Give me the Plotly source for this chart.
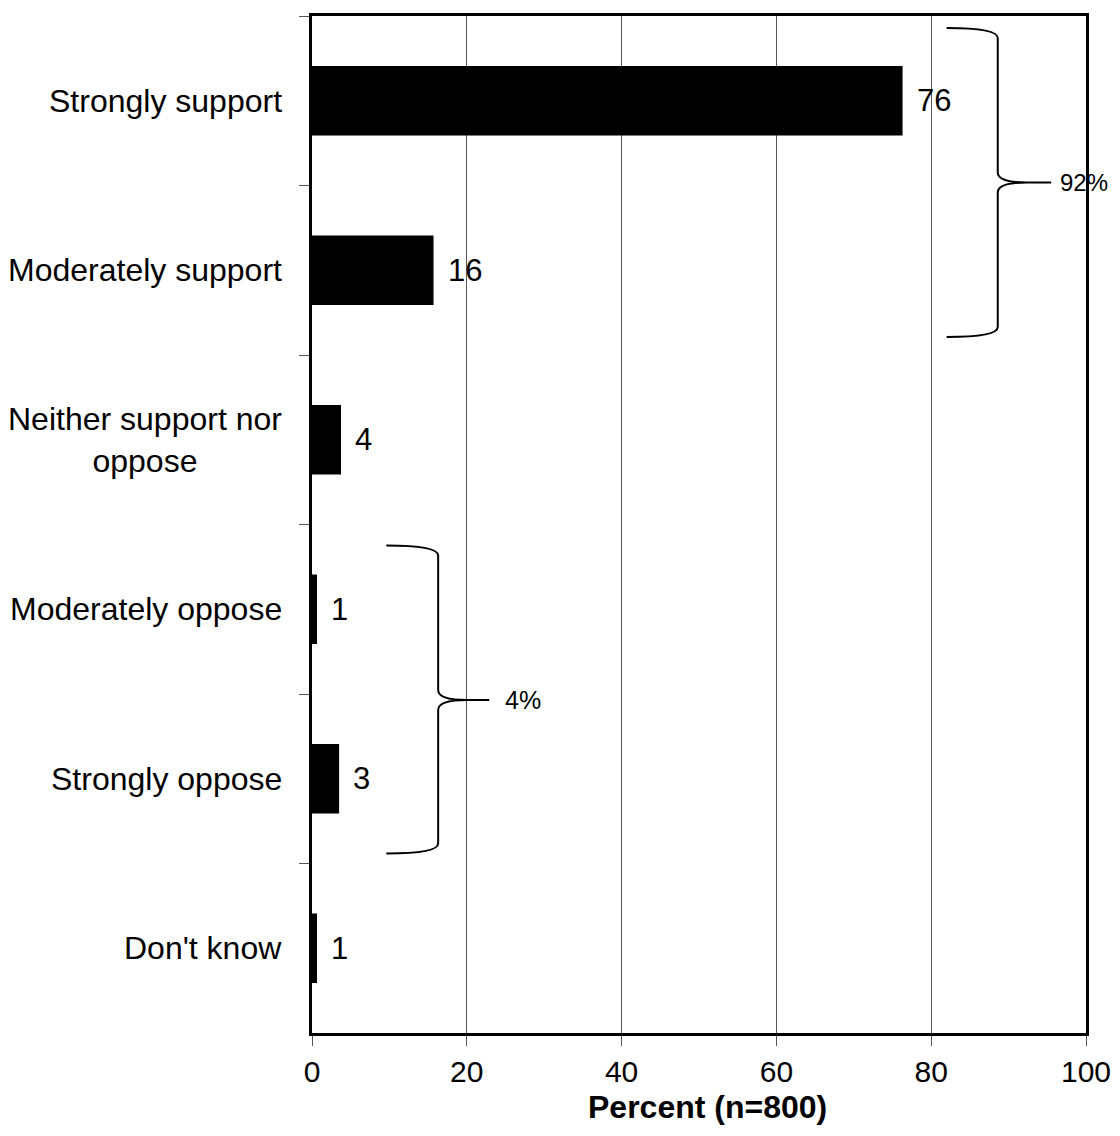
import plotly.graph_objects as go

categories = ["Strongly support", "Moderately support", "Neither support nor<br>oppose",
              "Moderately oppose", "Strongly oppose", "Don't know"]
values = [76.3, 15.7, 3.75, 0.65, 3.5, 0.65]
value_labels = ["76", "16", "4", "1", "3", "1"]
x_ticks = [0, 20, 40, 60, 80, 100]
group_labels = ["92%", "4%"]
x_title = "Percent (n=800)"

FONT = "Liberation Sans, Arial, sans-serif"
OFF = 8  # page body margin
W, H = 1120 - OFF, 1136 - 2 * OFF
ML, MT = 312 - OFF, 13 - OFF
PW, PH = 774, 1020
MR, MB = W - ML - PW, H - MT - PH


def py(pix):
    return 1 - (pix - 13) / PH


fig = go.Figure()
fig.add_trace(go.Bar(
    y=categories, x=values, orientation="h",
    marker=dict(color="black", line=dict(width=0)),
    width=0.41, hoverinfo="skip",
))

# value labels
for c, v, t in zip(categories, values, value_labels):
    fig.add_annotation(x=v, y=c, text=t, showarrow=False, xanchor="left", yanchor="middle",
                       xshift=12, font=dict(family=FONT, size=31, color="black"))

# category labels (centered multiline)
for c in categories:
    fig.add_annotation(x=0, xref="paper", y=c, yref="y", text=c, showarrow=False,
                       xanchor="right", yanchor="middle", xshift=-28, align="center",
                       font=dict(family=FONT, size=32, color="black"))


def brace(x_left, x_mid, x_tip, x_end, y_top, y_tip, y_bot):
    yt, ym, yb = py(y_top), py(y_tip), py(y_bot)
    d = 10 / PH
    path = (f"M {x_left},{yt} Q {x_mid},{yt} {x_mid},{yt - d} "
            f"L {x_mid},{ym + d} Q {x_mid},{ym} {x_tip},{ym} "
            f"Q {x_mid},{ym} {x_mid},{ym - d} "
            f"L {x_mid},{yb + d} Q {x_mid},{yb} {x_left},{yb} "
            f"M {x_tip},{ym} L {x_end},{ym}")
    fig.add_shape(type="path", path=path, xref="x", yref="paper",
                  line=dict(color="black", width=2))


brace(82.0, 88.6, 92.4, 95.5, 25, 180, 335)
fig.add_annotation(x=96.4, xref="x", y=py(180), yref="paper", text=group_labels[0],
                   showarrow=False, xanchor="left", yanchor="middle",
                   font=dict(family=FONT, size=24, color="black"))
brace(9.6, 16.3, 20.0, 22.9, 544, 699, 853)
fig.add_annotation(x=24.7, xref="x", y=py(699), yref="paper", text=group_labels[1],
                   showarrow=False, xanchor="left", yanchor="middle",
                   font=dict(family=FONT, size=25, color="black"))

# x-axis title
fig.add_annotation(x=0.5, xref="paper", y=py(1107), yref="paper", text=f"<b>{x_title}</b>",
                   showarrow=False, xanchor="center", yanchor="middle", xshift=8,
                   font=dict(family=FONT, size=32, color="black"))

fig.update_layout(
    width=W, height=H,
    margin=dict(l=ML, r=MR, t=MT, b=MB, pad=0),
    plot_bgcolor="white", paper_bgcolor="white",
    showlegend=False,
    font=dict(family=FONT, size=30, color="black"),
    xaxis=dict(
        range=[0, 100], tickvals=x_ticks, ticktext=[str(t) for t in x_ticks],
        showgrid=True, gridcolor="#555555", gridwidth=1,
        ticks="outside", ticklen=10, tickcolor="#555555", tickwidth=1,
        showline=True, linecolor="black", linewidth=3, mirror=True,
        zeroline=False,
        tickfont=dict(family=FONT, size=30, color="black"),
    ),
    yaxis=dict(
        type="category", categoryorder="array", categoryarray=categories,
        autorange="reversed",
        showticklabels=False, tickson="boundaries",
        ticks="outside", ticklen=10, tickcolor="#555555", tickwidth=1,
        showgrid=False, showline=True, linecolor="black", linewidth=3, mirror=True,
        zeroline=False,
    ),
)

fig.write_html("out.html")
